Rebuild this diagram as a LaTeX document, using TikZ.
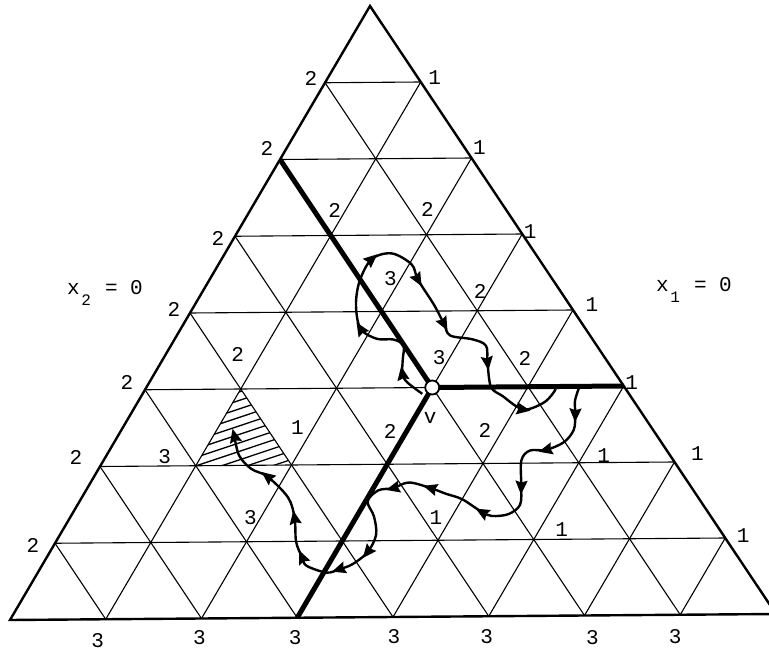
\documentclass[tikz,border=0pt]{standalone}
\usepackage{fontspec}
\setmonofont{Liberation Mono}
\usetikzlibrary{calc}
\newcommand\vlab[4]{\node[lbl] at ($(#1)+(#2,#3)$) {#4};}
\newcommand\arrowtri[2]{\fill[shift={(#1)}, rotate=#2] (7.5pt,0pt) -- (-6.5pt,6.2pt) -- (-4.5pt,0pt) -- (-6.5pt,-6.2pt) -- cycle;}
\begin{document}
\begin{tikzpicture}[x=1pt,y=-1pt,
  gridline/.style={line width=1.1pt},
  outline/.style={line width=2.4pt, line join=miter},
  heavy/.style={line width=5pt},
  curve/.style={line width=2.4pt, line join=round},
  lbl/.style={font=\ttfamily\fontsize{21}{21}\selectfont, inner sep=0pt},
]
\useasboundingbox (0,0) rectangle (769,652);
\fill[white] (0,0) rectangle (769,652);
% grid vertices p-i-j
\begin{scope}[shift={(370,6)}, x={(95.75pt,0.75pt)}, y={(-45pt,-76.75pt)}]
  \foreach \j in {0,...,8}{\foreach \i in {0,...,\j}{\coordinate (p-\i-\j) at (\i,\j);}}
\end{scope}
% thin grid
\foreach \j in {1,...,7} \draw[gridline] (p-0-\j) -- (p-\j-\j);
\foreach \i in {1,...,7} \draw[gridline] (p-\i-\i) -- (p-\i-8);
\foreach \k [evaluate=\k as \e using int(8-\k)] in {1,...,7} \draw[gridline] (p-0-\k) -- (p-\e-8);
% hatched triangle
\begin{scope}
  \clip (p-1-5) -- (p-1-6) -- (p-2-6) -- cycle;
  \foreach \c in {398,406.5,...,510} \draw[line width=1.3pt] (170,\c) -- (310,\c-46.7);
\end{scope}
% path
\draw[curve] plot[smooth, tension=0.55] coordinates {
  (422.25,393.8) (407.1,382.2) (402.4,373.8) (402.8,358.8) (403.5,345.5) (393.4,339.5)
  (376.8,338.8) (360.5,328.8) (356,305.3) (359.5,281.4) (371.6,259.2) (391.7,253.4)
  (411.6,264.4) (417.9,279.6) (434.3,305.3) (443.9,323.8) (450.2,335.5) (472.3,339.3)
  (486,345.7) (487.5,362.7) (491,387) (502.5,396) (523,409.4) (543,403.1) (553,393.4) (556.5,386.5)};
\draw[curve] (556.5,386.5) -- (579.5,386.35);
\draw[curve] plot[smooth, tension=0.55] coordinates {
  (579.5,386.35) (575,400.8) (575.3,414.7) (573.7,430) (563.7,442.3) (546,449.9) (529.7,450.6)
  (521.3,460.7) (521.3,487) (520,504.9) (508.5,514.1) (492.3,516) (482.3,512.3) (462.3,499.3)
  (445.7,493.7) (430.7,488.1) (409,482.5) (393.4,488.1) (378.2,490.4) (367.6,501.4) (373.9,516.2)
  (376.1,534.8) (367.6,552.1) (352.7,564.1) (339.2,569.3) (326.6,572.6) (306.6,565.8) (302.1,557.2)
  (296.1,541.8) (294.6,517.9) (288,497.4) (267.5,476.6) (251.3,468.9) (239.1,455.5) (234.4,436.1)};
% arrowheads
\arrowtri{402.4,373.8}{100}
\arrowtri{360.5,328.8}{122}
\arrowtri{371.6,259.2}{41}
\arrowtri{417.9,279.6}{-61}
\arrowtri{443.9,323.8}{-62}
\arrowtri{487.5,362.7}{-83}
\arrowtri{523,409.4}{-10}
\arrowtri{575.3,414.7}{-92}
\arrowtri{546,449.9}{194}
\arrowtri{521.3,487}{-92}
\arrowtri{482.3,512.3}{151}
\arrowtri{430.7,488.1}{163}
\arrowtri{393.4,488.1}{194}
\arrowtri{367.6,552.1}{231}
\arrowtri{339.2,569.3}{198}
\arrowtri{302.1,557.2}{114}
\arrowtri{294.6,517.9}{100}
\arrowtri{267.5,476.6}{142}
\arrowtri{234.4,436.1}{104}
% heavy lines
\draw[heavy] (p-0-2) -- (p-3-5);
\draw[heavy] (p-3-5) -- (p-5-5);
\draw[heavy] (p-3-5) -- (p-3-8);
% outline
\draw[outline] (p-0-0) -- (p-0-8) -- (p-8-8) -- cycle;
% vertex v
\node[circle, draw, fill=white, line width=1.8pt, minimum size=14pt, inner sep=0pt] (v) at (p-3-5) {};
% labels left edge
\vlab{p-0-1}{-14}{-4}{2}
\vlab{p-0-2}{-13}{-11}{2}
\vlab{p-0-3}{-17}{2}{2}
\vlab{p-0-4}{-16}{-4}{2}
\vlab{p-0-5}{-18}{-7}{2}
\vlab{p-0-6}{-24}{-9}{2}
\vlab{p-0-7}{-22}{2}{2}
% right edge
\vlab{p-1-1}{14}{-4}{1}
\vlab{p-2-2}{8}{-10}{1}
\vlab{p-3-3}{8}{-2}{1}
\vlab{p-4-4}{19}{-5}{1}
\vlab{p-5-5}{8}{-3}{1}
\vlab{p-6-6}{23}{-8}{1}
\vlab{p-7-7}{18}{-2}{1}
% base
\vlab{p-1-8}{-8}{21}{3}
\vlab{p-2-8}{-2}{19}{3}
\vlab{p-3-8}{-2}{20}{3}
\vlab{p-4-8}{1}{20}{3}
\vlab{p-5-8}{-2}{20}{3}
\vlab{p-6-8}{8}{22}{3}
\vlab{p-7-8}{-5}{22}{3}
% interior
\vlab{p-1-3}{4}{-25}{2}
\vlab{p-2-3}{1}{-25}{2}
\vlab{p-2-4}{9}{-33}{3}
\vlab{p-3-4}{3}{-19}{2}
\vlab{p-3-5}{7}{-30}{3}
\vlab{p-3-5}{-2}{30}{v}
\vlab{p-4-5}{-3}{-28}{2}
\vlab{p-1-5}{-3}{-35}{2}
\vlab{p-1-6}{-31}{-9}{3}
\vlab{p-2-6}{6}{-37}{1}
\vlab{p-3-6}{3}{-33}{2}
\vlab{p-4-6}{2}{-33}{2}
\vlab{p-5-6}{25}{-7}{1}
\vlab{p-2-7}{4}{-24}{3}
\vlab{p-4-7}{-2}{-23}{1}
\vlab{p-5-7}{28}{-10}{1}
% face labels
\node[lbl, anchor=base west] (x2) at (67,295) {x\makebox[12.6pt]{\raisebox{-11pt}{\fontsize{16}{16}\selectfont 2}} = 0};
\node[lbl, anchor=base west] (x1) at (656,292) {x\makebox[12.6pt]{\raisebox{-11pt}{\fontsize{16}{16}\selectfont 1}} = 0};
\end{tikzpicture}
\end{document}
